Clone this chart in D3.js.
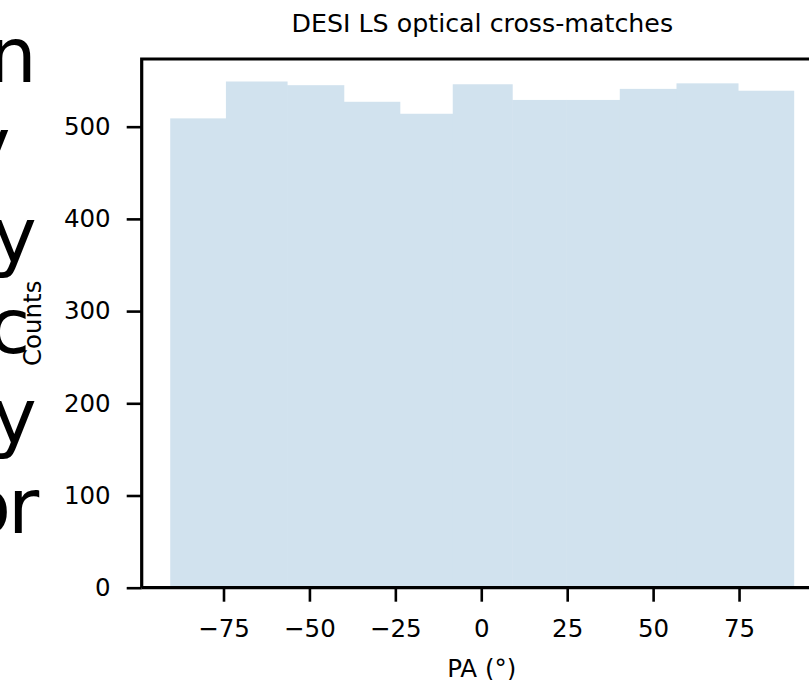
<!DOCTYPE html>
<html>
<head>
<meta charset="utf-8">
<script src="https://cdn.jsdelivr.net/npm/d3@7"></script>
<style>
  html, body { margin: 0; padding: 0; background: #fff; }
  svg { display: block; font-family: "DejaVu Sans", sans-serif; }
</style>
</head>
<body>
<svg id="chart" width="809" height="680"></svg>
<script>
// ---- data ----
const title = "DESI LS optical cross-matches";
const xLabel = "PA (\u00b0)";
const yLabel = "Counts";
const binEdges = [-90.5, -74.3, -56.5, -40.0, -23.7, -8.3, 9.0, 24.7, 40.3, 56.8, 74.7, 90.9];
const counts = [509, 549, 545, 527, 514, 546, 529, 529, 541, 547, 539];
const xTicks = [-75, -50, -25, 0, 25, 50, 75];
const yTicks = [0, 100, 200, 300, 400, 500];
// clipped text fragments from a neighbouring panel (line ends)
const sideText = ["n", "y", "y", "c", "y", "or"];
const sideTextX = ["-11.5", "-34.5", "-8.2", "-11.5", "-8.2", "-35.6 8"];

// ---- layout ----
const svg = d3.select("#chart");
const pLeft = 141.7, pRight = 826, pTop = 59, pBottom = 587.7;

const x = d3.scaleLinear().domain([-98.8, 100.3]).range([pLeft, pRight]);
const y = d3.scaleLinear().domain([0, 573.4]).range([pBottom, pTop]);

// side text
svg.append("g").selectAll("text").data(sideText).join("text")
  .attr("x", (d, i) => sideTextX[i])
  .attr("y", (d, i) => 81.7 + i * 90.3)
  .attr("font-size", 76)
  .attr("fill", "#000")
  .text(d => d);

// bars
const bins = counts.map((c, i) => ({ x0: binEdges[i], x1: binEdges[i + 1], c }));
svg.append("g").selectAll("rect").data(bins).join("rect")
  .attr("x", d => x(d.x0))
  .attr("width", d => x(d.x1) - x(d.x0) + 0.5)
  .attr("y", d => y(d.c))
  .attr("height", d => y(0) - y(d.c))
  .attr("fill", "#d1e2ee");

const fmt = d => (d < 0 ? "\u2212" + Math.abs(d) : String(d));

// x axis
const xAxis = svg.append("g").attr("transform", `translate(0,${pBottom})`)
  .call(d3.axisBottom(x).tickValues(xTicks).tickFormat(fmt).tickSize(14).tickPadding(6));
// y axis
const yAxis = svg.append("g").attr("transform", `translate(${pLeft},0)`)
  .call(d3.axisLeft(y).tickValues(yTicks).tickFormat(fmt).tickSize(15).tickPadding(16));

[xAxis, yAxis].forEach(g => {
  g.select(".domain").remove();
  g.selectAll(".tick line").attr("stroke", "#000").attr("stroke-width", 2.6);
  g.selectAll(".tick text").attr("font-size", 24.5).attr("fill", "#000")
    .attr("font-family", "DejaVu Sans");
});
xAxis.selectAll(".tick text").attr("dy", "1.18em");

// spines (left, bottom, top; right is off-canvas)
const spine = svg.append("g").attr("stroke", "#000").attr("stroke-width", 3.2).attr("fill", "none");
spine.append("path").attr("d", `M${pLeft},${pBottom}V${pTop}H${pRight}`);
spine.append("path").attr("d", `M${pLeft},${pBottom}H${pRight}`);

// title
svg.append("text")
  .attr("x", 482.3).attr("y", 31.7)
  .attr("text-anchor", "middle").attr("font-size", 25.3).attr("fill", "#000")
  .text(title);

// x label
svg.append("text")
  .attr("x", 481.7).attr("y", 676.5)
  .attr("text-anchor", "middle").attr("font-size", 24.5).attr("fill", "#000")
  .text(xLabel);

// y label
svg.append("text")
  .attr("transform", `translate(40.5,${(pTop + pBottom) / 2}) rotate(-90)`)
  .attr("text-anchor", "middle").attr("font-size", 24.5).attr("fill", "#000")
  .text(yLabel);
</script>
</body>
</html>
